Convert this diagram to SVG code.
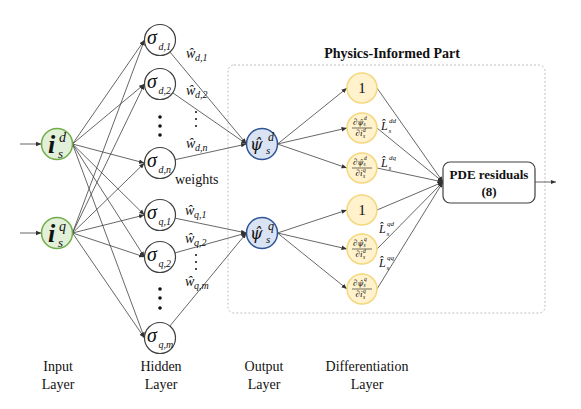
<svg xmlns="http://www.w3.org/2000/svg" width="581" height="409" viewBox="0 0 581 409">
<defs>
<marker id="ah" viewBox="0 0 10 10" refX="10" refY="5" markerWidth="5.5" markerHeight="5.5" orient="auto" markerUnits="userSpaceOnUse"><path d="M0,1 L10,5 L0,9 z" fill="#333"/></marker>
</defs>
<style>
text{font-family:"Liberation Serif","Times New Roman",serif;fill:#111}
.it{font-style:italic}
.psi{font-family:"DejaVu Serif",serif;font-style:italic}
.edge{stroke:#404040;stroke-width:0.8;fill:none;marker-end:url(#ah)}
.in{fill:#e2f0d9;stroke:#70ad47;stroke-width:1.5}
.hid{fill:#fff;stroke:#404040;stroke-width:1.2}
.out{fill:#dae3f3;stroke:#2f5597;stroke-width:1.5}
.dif{fill:#fff2cc;stroke:#f4d77e;stroke-width:1.5}
.sig{font-size:20px;font-style:italic}
.sub{font-size:10px;font-style:italic}
.w{font-size:14px;font-style:italic}
.fr{font-size:9px;font-style:italic}
.frs{font-size:5.5px;font-style:italic}
.L{font-size:12px;font-style:italic}
.Ls{font-size:7px;font-style:italic}
.lbl{font-size:14px;text-anchor:middle}
.dot{fill:#111}
</style>

<g id="physics-part">
<rect x="228" y="65" width="317" height="248" rx="6" fill="none" stroke="#bfbfbf" stroke-width="1" stroke-dasharray="2,2"/>
<text x="392" y="58" text-anchor="middle" font-weight="bold" font-size="14">Physics-Informed Part</text>
</g>

<g id="connectors">
<line class="edge" x1="20" y1="144" x2="41.5" y2="144"/>
<line class="edge" x1="20" y1="233" x2="41.5" y2="233"/>
<line class="edge" x1="72.5" y1="144" x2="144.5" y2="40"/>
<line class="edge" x1="72.5" y1="144" x2="144.5" y2="84"/>
<line class="edge" x1="72.5" y1="144" x2="144.5" y2="163"/>
<line class="edge" x1="72.5" y1="144" x2="144.5" y2="215"/>
<line class="edge" x1="72.5" y1="144" x2="144.5" y2="257"/>
<line class="edge" x1="72.5" y1="144" x2="144.5" y2="338"/>
<line class="edge" x1="72.5" y1="233" x2="144.5" y2="40"/>
<line class="edge" x1="72.5" y1="233" x2="144.5" y2="84"/>
<line class="edge" x1="72.5" y1="233" x2="144.5" y2="163"/>
<line class="edge" x1="72.5" y1="233" x2="144.5" y2="215"/>
<line class="edge" x1="72.5" y1="233" x2="144.5" y2="257"/>
<line class="edge" x1="72.5" y1="233" x2="144.5" y2="338"/>
<line class="edge" x1="169.9" y1="51.9" x2="246.5" y2="144"/>
<line class="edge" x1="172.7" y1="92.8" x2="246.5" y2="144"/>
<line class="edge" x1="175.1" y1="159.7" x2="246.5" y2="144"/>
<line class="edge" x1="175.2" y1="218.2" x2="246.5" y2="233"/>
<line class="edge" x1="174.9" y1="252.9" x2="246.5" y2="233"/>
<line class="edge" x1="169.9" y1="326" x2="246.5" y2="233"/>
<line class="edge" x1="277.5" y1="144" x2="347" y2="88"/>
<line class="edge" x1="277.5" y1="144" x2="347" y2="128"/>
<line class="edge" x1="277.5" y1="144" x2="347" y2="168"/>
<line class="edge" x1="277.5" y1="233" x2="347" y2="210"/>
<line class="edge" x1="277.5" y1="233" x2="347" y2="249"/>
<line class="edge" x1="277.5" y1="233" x2="347" y2="289"/>
<line class="edge" x1="377" y1="88" x2="443" y2="182"/>
<line class="edge" x1="377" y1="128" x2="443" y2="182"/>
<line class="edge" x1="377" y1="168" x2="443" y2="182"/>
<line class="edge" x1="377" y1="210" x2="443" y2="182"/>
<line class="edge" x1="377" y1="249" x2="443" y2="182"/>
<line class="edge" x1="377" y1="289" x2="443" y2="182"/>
<line class="edge" x1="535" y1="182" x2="556" y2="182"/>
</g>

<g id="weights">
<text class="w" x="186" y="58">ŵ</text><text class="sub" x="195" y="61">d,1</text>
<text class="w" x="186" y="95">ŵ</text><text class="sub" x="195" y="98">d,2</text>
<circle class="dot" cx="196" cy="112" r="1"/><circle class="dot" cx="196" cy="119" r="1"/><circle class="dot" cx="196" cy="126" r="1"/>
<text class="w" x="186" y="148">ŵ</text><text class="sub" x="195" y="151">d,n</text>
<text x="175" y="184" font-size="14">weights</text>
<text class="w" x="185" y="215">ŵ</text><text class="sub" x="194" y="218">q,1</text>
<text class="w" x="185" y="243">ŵ</text><text class="sub" x="194" y="246">q,2</text>
<circle class="dot" cx="196" cy="255" r="1"/><circle class="dot" cx="196" cy="262" r="1"/><circle class="dot" cx="196" cy="269" r="1"/>
<text class="w" x="185" y="286">ŵ</text><text class="sub" x="194" y="289">q,m</text>
</g>

<g id="input-isd">
<circle class="in" cx="57" cy="144" r="15.5"/>
<text class="it" x="48" y="153" font-size="26" font-weight="bold">i<tspan font-size="14" font-weight="normal" dx="3.8" dy="-11">d</tspan><tspan font-size="13" font-weight="normal" dx="-8" dy="16">s</tspan></text>
</g>
<g id="input-isq">
<circle class="in" cx="57" cy="233" r="15.5"/>
<text class="it" x="48" y="242" font-size="26" font-weight="bold">i<tspan font-size="14" font-weight="normal" dx="3.8" dy="-11">q</tspan><tspan font-size="13" font-weight="normal" dx="-8" dy="16">s</tspan></text>
</g>

<g id="hidden-d1"><circle class="hid" cx="160" cy="40" r="15.5"/><text class="sig" x="147" y="44">σ</text><text class="sub" x="158.5" y="50">d,1</text></g>
<g id="hidden-d2"><circle class="hid" cx="160" cy="84" r="15.5"/><text class="sig" x="147" y="88">σ</text><text class="sub" x="158.5" y="94">d,2</text></g>
<g id="hidden-ddots"><circle class="dot" cx="160" cy="117" r="1.8"/><circle class="dot" cx="160" cy="126" r="1.8"/><circle class="dot" cx="160" cy="135" r="1.8"/></g>
<g id="hidden-dn"><circle class="hid" cx="160" cy="163" r="15.5"/><text class="sig" x="147" y="167">σ</text><text class="sub" x="158.5" y="173">d,n</text></g>
<g id="hidden-q1"><circle class="hid" cx="160" cy="215" r="15.5"/><text class="sig" x="147" y="219">σ</text><text class="sub" x="158.5" y="225">q,1</text></g>
<g id="hidden-q2"><circle class="hid" cx="160" cy="257" r="15.5"/><text class="sig" x="147" y="261">σ</text><text class="sub" x="158.5" y="267">q,2</text></g>
<g id="hidden-qdots"><circle class="dot" cx="160" cy="289" r="1.8"/><circle class="dot" cx="160" cy="298" r="1.8"/><circle class="dot" cx="160" cy="308" r="1.8"/></g>
<g id="hidden-qm"><circle class="hid" cx="160" cy="338" r="15.5"/><text class="sig" x="147" y="342">σ</text><text class="sub" x="158.5" y="348">q,m</text></g>

<g id="output-psid">
<circle class="out" cx="262" cy="144" r="15.5"/>
<text class="psi" x="250" y="150" font-size="16">ψ̂</text>
<text class="it" x="268" y="141" font-size="12">d</text>
<text class="it" x="266" y="154" font-size="11">s</text>
</g>
<g id="output-psiq">
<circle class="out" cx="262" cy="233" r="15.5"/>
<text class="psi" x="250" y="239" font-size="16">ψ̂</text>
<text class="it" x="268" y="230" font-size="12">q</text>
<text class="it" x="266" y="243" font-size="11">s</text>
</g>

<g id="diff-1d"><circle class="dif" cx="362" cy="88" r="15"/><text x="362" y="93" font-size="15" text-anchor="middle">1</text></g>
<g id="diff-dd">
<circle class="dif" cx="362" cy="128" r="15"/>
<text class="fr" x="353" y="125">∂<tspan class="psi" font-size="7.5">ψ̂</tspan></text>
<text class="frs" x="364" y="120">d</text><text class="frs" x="363.5" y="126">s</text>
<line x1="352" y1="128" x2="372" y2="128" stroke="#111" stroke-width="0.6"/>
<text class="fr" x="355.5" y="136">∂i</text><text class="frs" x="363" y="132">d</text><text class="frs" x="363" y="137.5">s</text>
</g>
<g id="diff-dq">
<circle class="dif" cx="362" cy="168" r="15"/>
<text class="fr" x="353" y="165">∂<tspan class="psi" font-size="7.5">ψ̂</tspan></text>
<text class="frs" x="364" y="160">d</text><text class="frs" x="363.5" y="166">s</text>
<line x1="352" y1="168" x2="372" y2="168" stroke="#111" stroke-width="0.6"/>
<text class="fr" x="355.5" y="176">∂i</text><text class="frs" x="363" y="172">q</text><text class="frs" x="363" y="177.5">s</text>
</g>
<g id="diff-1q"><circle class="dif" cx="362" cy="210" r="15"/><text x="362" y="215" font-size="15" text-anchor="middle">1</text></g>
<g id="diff-qd">
<circle class="dif" cx="362" cy="249" r="15"/>
<text class="fr" x="353" y="246">∂<tspan class="psi" font-size="7.5">ψ̂</tspan></text>
<text class="frs" x="364" y="241">q</text><text class="frs" x="363.5" y="247">s</text>
<line x1="352" y1="249" x2="372" y2="249" stroke="#111" stroke-width="0.6"/>
<text class="fr" x="355.5" y="257">∂i</text><text class="frs" x="363" y="253">d</text><text class="frs" x="363" y="258.5">s</text>
</g>
<g id="diff-qq">
<circle class="dif" cx="362" cy="289" r="15"/>
<text class="fr" x="353" y="286">∂<tspan class="psi" font-size="7.5">ψ̂</tspan></text>
<text class="frs" x="364" y="281">q</text><text class="frs" x="363.5" y="287">s</text>
<line x1="352" y1="289" x2="372" y2="289" stroke="#111" stroke-width="0.6"/>
<text class="fr" x="355.5" y="297">∂i</text><text class="frs" x="363" y="293">q</text><text class="frs" x="363" y="298.5">s</text>
</g>

<g id="L-labels">
<text class="L" x="381" y="130">L̂</text><text class="Ls" x="389" y="123">dd</text><text class="Ls" x="388.5" y="133">s</text>
<text class="L" x="381" y="167">L̂</text><text class="Ls" x="389" y="160">dq</text><text class="Ls" x="388.5" y="170">s</text>
<text class="L" x="379" y="233">L̂</text><text class="Ls" x="387" y="226">qd</text><text class="Ls" x="386.5" y="236">s</text>
<text class="L" x="379" y="267">L̂</text><text class="Ls" x="387" y="260">qq</text><text class="Ls" x="386.5" y="270">s</text>
</g>

<g id="pde">
<rect x="443" y="162" width="92" height="41" rx="7" fill="#fff" stroke="#404040" stroke-width="1.2"/>
<text x="489" y="179" font-size="13" font-weight="bold" text-anchor="middle">PDE residuals</text>
<text x="489" y="196" font-size="13" font-weight="bold" text-anchor="middle">(8)</text>
</g>

<g id="layer-labels">
<text class="lbl" x="58" y="371">Input</text><text class="lbl" x="58" y="389">Layer</text>
<text class="lbl" x="161" y="371">Hidden</text><text class="lbl" x="161" y="389">Layer</text>
<text class="lbl" x="264" y="371">Output</text><text class="lbl" x="264" y="389">Layer</text>
<text class="lbl" x="367" y="371">Differentiation</text><text class="lbl" x="367" y="389">Layer</text>
</g>
</svg>
